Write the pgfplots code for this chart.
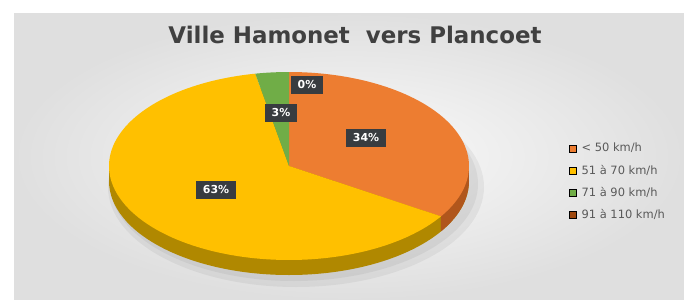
\documentclass[border=0pt]{standalone}
\usepackage{fontspec}
\setmainfont{DejaVu Sans}
\usepackage{pgfplots}
\usepackage{pgfplotstable}
\pgfplotsset{compat=1.18}
\definecolor{cOrange}{HTML}{ED7D31}
\definecolor{cYellow}{HTML}{FFC000}
\definecolor{cGreen}{HTML}{70AD47}
\definecolor{cRed}{HTML}{9E480E}
\definecolor{sOrange}{HTML}{B0561C}
\definecolor{sYellow}{HTML}{B08800}
\definecolor{lblbg}{HTML}{383C40}
\definecolor{titlegray}{HTML}{404040}
\definecolor{leggray}{HTML}{595959}

\pgfplotstableread{
cat value
1 34
2 63
3 3
4 0
}\piedata

\pgfplotstableread{
x y value
366 138 34
216 190 63
281 113 3
307 85 0
}\labeldata

\begin{document}%
\begin{tikzpicture}
\pgfplotstablegetelem{0}{value}\of\piedata \pgfmathsetmacro\vA{\pgfplotsretval}
\pgfplotstablegetelem{1}{value}\of\piedata \pgfmathsetmacro\vB{\pgfplotsretval}
\pgfplotstablegetelem{2}{value}\of\piedata \pgfmathsetmacro\vC{\pgfplotsretval}
\pgfmathsetmacro\aA{90}
\pgfmathsetmacro\aB{\aA-3.6*\vA}
\pgfmathsetmacro\aC{\aB-3.6*\vB}
\pgfmathsetmacro\aD{\aC-3.6*\vC}
\def\cx{289}\def\cy{166}\def\rx{180}\def\ry{94}\def\dd{15}
\pgfmathsetmacro\cyb{\cy+\dd}
\pgfmathsetmacro\xL{\cx-\rx}
\pgfmathsetmacro\xR{\cx+\rx}
\pgfmathsetmacro\xB{\cx+\rx*cos(\aB)}
\begin{axis}[
  scale only axis, width=684bp, height=300bp,
  xmin=0, xmax=684, ymin=0, ymax=300, y dir=reverse,
  axis lines=none, clip=false,
  legend style={at={(axis cs:569,141)}, anchor=north west, draw=none, fill=none,
    font=\fontsize{11.5}{14}\selectfont, text=leggray, row sep=7.5bp, inner sep=0pt,
    /tikz/every odd column/.append style={column sep=3bp}},
  legend cell align=left,
  legend image code/.code={\fill[#1] (0bp,-3.5bp) rectangle (7bp,3.5bp);},
]
% background panel
\fill[white] (axis cs:0,0) rectangle (axis cs:684,300);
\shade[inner color=gray!3, outer color=gray!25] (axis cs:14,13) rectangle (axis cs:684,300);
% soft shadow
\fill[black, opacity=0.05] (axis cs:296,\cyb+6) ellipse [x radius=188bp, y radius=100bp];
\fill[black, opacity=0.05] (axis cs:294,\cyb+3) ellipse [x radius=184bp, y radius=97bp];
% 3D side
\fill[sYellow] (axis cs:\cx,\cyb) ellipse [x radius=\rx bp, y radius=\ry bp];
\fill[sYellow] (axis cs:\xL,\cy) rectangle (axis cs:\xR,\cyb);
\begin{scope}
\clip (axis cs:\xB,0) rectangle (axis cs:684,300);
\fill[sOrange] (axis cs:\cx,\cyb) ellipse [x radius=\rx bp, y radius=\ry bp];
\fill[sOrange] (axis cs:\xL,\cy) rectangle (axis cs:\xR,\cyb);
\end{scope}
% top face slices
\addplot[draw=none, fill=cOrange, domain=\aB:\aA, samples=90, variable=\t, forget plot]
  ({\cx+\rx*cos(\t)}, {\cy-\ry*sin(\t)}) -- (axis cs:\cx,\cy) -- cycle;
\addplot[draw=none, fill=cYellow, domain=\aC:\aB, samples=150, variable=\t, forget plot]
  ({\cx+\rx*cos(\t)}, {\cy-\ry*sin(\t)}) -- (axis cs:\cx,\cy) -- cycle;
\addplot[draw=none, fill=cGreen, domain=\aD:\aC, samples=20, variable=\t, forget plot]
  ({\cx+\rx*cos(\t)}, {\cy-\ry*sin(\t)}) -- (axis cs:\cx,\cy) -- cycle;
% data labels
\addplot[draw=none, mark=none, point meta=explicit symbolic,
  nodes near coords={\pgfplotspointmeta\%}, nodes near coords align=center,
  every node near coord/.append style={fill=lblbg, text=white,
    font=\bfseries\fontsize{11}{13}\selectfont, inner xsep=7bp, inner ysep=4.5bp, anchor=center},
  forget plot] table[x=x, y=y, meta=value] {\labeldata};
% title
\node[font=\bfseries\fontsize{23}{27}\selectfont, text=titlegray, anchor=base]
  at (axis cs:355,43) {Ville Hamonet\ \ vers Plancoet};
% legend
\addlegendimage{fill=cOrange}\addlegendentry{< 50 km/h}
\addlegendimage{fill=cYellow}\addlegendentry{51 à 70 km/h}
\addlegendimage{fill=cGreen}\addlegendentry{71 à 90 km/h}
\addlegendimage{fill=cRed}\addlegendentry{91 à 110 km/h}
\end{axis}
\end{tikzpicture}%
\end{document}
